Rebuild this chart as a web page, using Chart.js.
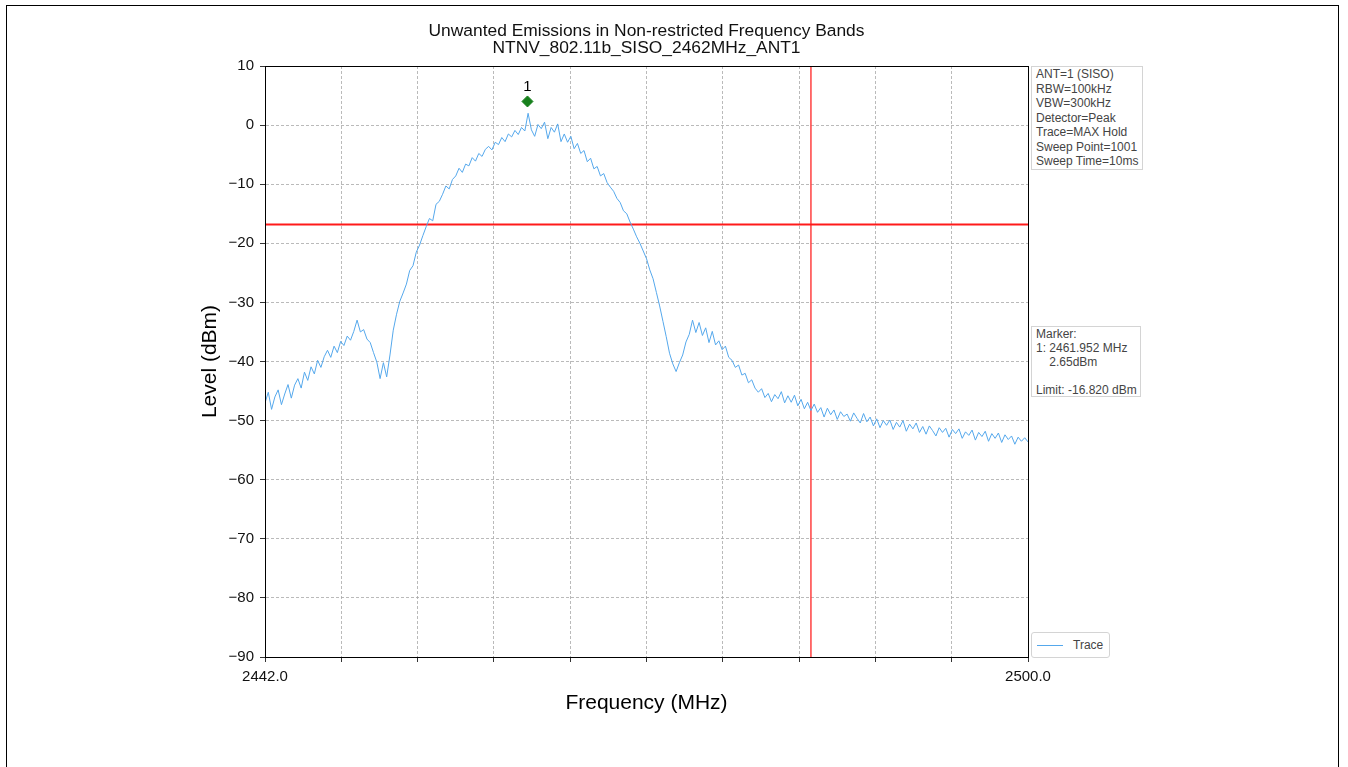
<!DOCTYPE html>
<html>
<head>
<meta charset="utf-8">
<title>Unwanted Emissions in Non-restricted Frequency Bands</title>
<script src="https://cdn.jsdelivr.net/npm/chart.js@4.4.1/dist/chart.umd.min.js"></script>
<style>
  html, body { margin: 0; padding: 0; background: #fff; overflow: hidden; }
  body { width: 1348px; height: 767px; position: relative; font-family: "Liberation Sans", Arial, sans-serif; }
  #frame { position: absolute; left: 6px; top: 5px; width: 1333px; height: 820px; border: 1.5px solid #000; box-sizing: border-box; }
  #chart { position: absolute; left: 0; top: 0; }
  .note { position: absolute; border: 1px solid #d4d4d4; background: #fff; font-size: 12px; color: #444; padding: 0 4px; white-space: pre; box-sizing: border-box; }
  #setup { left: 1031px; top: 66px; width: 112px; height: 104px; line-height: 14.5px; }
  #markerInfo { left: 1031px; top: 326px; width: 110px; height: 71px; line-height: 14px; }
  #legend { left: 1031px; top: 632px; width: 79px; height: 26px; border-radius: 3px; line-height: 24px; padding-left: 5px; }
  #legend span.swatch { display: inline-block; width: 26px; height: 0; border-top: 1.5px solid #55a8ec; vertical-align: middle; margin-right: 10px; }
</style>
</head>
<body>
<div id="frame"></div>
<canvas id="chart" width="1348" height="767"></canvas>
<div class="note" id="setup">ANT=1 (SISO)
RBW=100kHz
VBW=300kHz
Detector=Peak
Trace=MAX Hold
Sweep Point=1001
Sweep Time=10ms</div>
<div class="note" id="markerInfo">Marker:
1: 2461.952 MHz
    2.65dBm

Limit: -16.820 dBm</div>
<div class="note" id="legend"><span class="swatch"></span>Trace</div>
<script>
// Sweep: 2442.0 - 2500.0 MHz, every 0.25 MHz
const startFreq = 2442.0;
const stopFreq = 2500.0;
const freqStep = 0.25;

const traceLevels = [
  -47.0, -45.2, -48.1, -46.0, -44.8, -47.3, -45.5, -43.9,
  -46.2, -44.0, -42.9, -44.5, -41.8, -43.2, -40.9, -42.1,
  -39.8, -41.0, -39.2, -38.1, -39.3, -37.4, -38.5, -36.6,
  -37.3, -35.7, -36.4, -34.9, -33.0, -35.0, -34.6, -36.2,
  -36.8, -38.5, -40.1, -42.9, -40.2, -42.6, -38.9, -34.7,
  -32.0, -29.8, -28.4, -26.9, -24.6, -23.8, -21.5, -20.3,
  -18.7, -17.2, -15.8, -16.2, -13.4, -12.9, -11.7, -10.3,
  -10.8, -9.2, -8.6, -7.3, -8.0, -6.6, -6.9, -5.5,
  -6.1, -4.8, -5.3, -4.1, -3.6, -4.2, -2.9, -3.3,
  -2.1, -2.8, -1.5, -2.0, -0.9, -1.6, -0.4, -1.0,
  2.0, -0.8, -1.9, 0.1, -0.6, 0.5, -2.3, -0.4,
  -1.2, 0.2, -2.8, -1.5, -2.9, -1.9, -4.0, -3.1,
  -4.8, -4.3, -6.2, -5.6, -7.4, -7.0, -8.6, -8.2,
  -9.7, -10.5, -11.2, -12.4, -13.1, -14.5, -15.0, -16.4,
  -17.6, -18.9, -20.0, -21.3, -22.6, -24.5, -26.0, -28.3,
  -30.6, -33.2, -35.8, -38.6, -40.4, -41.7, -40.2, -38.9,
  -36.7, -35.4, -33.0, -35.1, -33.4, -35.6, -34.3, -36.8,
  -34.9, -37.2, -36.5, -38.0, -37.4, -39.3, -39.8, -41.0,
  -40.6, -42.3, -42.0, -43.6, -43.1, -44.5, -45.2, -44.6,
  -46.1, -45.4, -46.8, -45.6, -46.3, -45.1, -47.0, -45.8,
  -46.9, -45.7, -47.5, -46.4, -48.0, -46.9, -48.3, -47.2,
  -48.6, -47.8, -49.4, -47.9, -49.0, -48.2, -49.8, -48.5,
  -49.3, -48.9, -50.1, -48.7, -49.6, -50.4, -48.8, -50.2,
  -49.4, -50.9, -49.7, -51.2, -50.0, -50.8, -49.9, -51.5,
  -50.3, -51.1, -50.0, -51.8, -50.6, -51.4, -50.4, -52.0,
  -51.0, -52.3, -50.9, -51.7, -52.6, -51.2, -52.0, -51.3,
  -52.8, -51.5, -52.2, -51.4, -53.0, -51.9, -52.5, -51.6,
  -53.3, -52.0, -52.7, -51.8, -53.5, -52.2, -53.0, -52.1,
  -53.7, -52.4, -53.2, -52.6, -54.0, -52.8, -53.5, -52.9,
  -53.6
];

const xTicks = [2442.0, 2447.8, 2453.6, 2459.4, 2465.2, 2471.0, 2476.8, 2482.6, 2488.4, 2494.2, 2500.0];
const yMin = -90;
const yMax = 10;
const yStep = 10;

const limitLevel = -16.82;
const bandEdgeFreq = 2483.5;
const markerFreq = 2461.952;
const markerLevel = 4.0;   // where the diamond sits on the plot
const markerLabel = '1';

const titleLines = [
  'Unwanted Emissions in Non-restricted Frequency Bands',
  'NTNV_802.11b_SISO_2462MHz_ANT1'
];

const FONT = '"Liberation Sans", Arial, sans-serif';
const TRACE_COLOR = '#55a8ec';

const tracePoints = traceLevels.map(function (v, i) {
  return { x: startFreq + i * freqStep, y: v };
});

// full box round the axes, like the original plot
const framePlugin = {
  id: 'frame',
  afterDraw(chart) {
    const a = chart.chartArea;
    const ctx = chart.ctx;
    ctx.save();
    ctx.strokeStyle = '#000';
    ctx.lineWidth = 1;
    ctx.strokeRect(a.left + 0.5, a.top + 0.5, a.right - a.left, a.bottom - a.top);
    ctx.restore();
  }
};

// "1" over the marker diamond
const markerLabelPlugin = {
  id: 'markerLabel',
  afterDatasetsDraw(chart) {
    const meta = chart.getDatasetMeta(3);
    const pt = meta.data[0];
    if (!pt) return;
    const ctx = chart.ctx;
    ctx.save();
    ctx.fillStyle = '#000';
    ctx.font = '15px ' + FONT;
    ctx.textAlign = 'center';
    ctx.textBaseline = 'bottom';
    ctx.fillText(markerLabel, pt.x, pt.y - 7);
    ctx.restore();
  }
};

const gridStyle = {
  color: '#a8a8a8',
  lineWidth: 0.8,
  tickBorderDash: [],
  tickColor: '#000',
  tickLength: 5,
  drawTicks: true
};

// in v4 the grid line dash lives under border.dash
const borderStyle = { display: true, color: '#000', width: 1, dash: [3, 2] };

new Chart(document.getElementById('chart').getContext('2d'), {
  type: 'line',
  data: {
    datasets: [
      {
        label: 'Trace',
        data: tracePoints,
        borderColor: TRACE_COLOR,
        borderWidth: 1,
        pointRadius: 0,
        tension: 0
      },
      {
        label: 'Limit',
        data: [{ x: startFreq, y: limitLevel }, { x: stopFreq, y: limitLevel }],
        borderColor: '#ff1a1a',
        borderWidth: 2,
        pointRadius: 0
      },
      {
        label: 'Band edge',
        data: [{ x: bandEdgeFreq, y: yMin }, { x: bandEdgeFreq, y: yMax }],
        borderColor: '#ff4040',
        borderWidth: 1.5,
        pointRadius: 0
      },
      {
        label: 'Marker',
        data: [{ x: markerFreq, y: markerLevel }],
        showLine: false,
        pointStyle: 'rectRot',
        pointRadius: 5.5,
        backgroundColor: '#17801c',
        borderColor: '#17801c',
        borderWidth: 1
      }
    ]
  },
  options: {
    responsive: false,
    animation: false,
    layout: {
      padding: { left: 195, right: 320, top: 0, bottom: 47 }
    },
    plugins: {
      legend: { display: false },
      tooltip: { enabled: false },
      title: {
        display: true,
        fullSize: false,
        text: titleLines,
        color: '#111',
        font: { family: FONT, size: 17.4, weight: 'normal', lineHeight: '17px' },
        padding: { top: 23, bottom: 9 }
      }
    },
    scales: {
      x: {
        type: 'linear',
        min: startFreq,
        max: stopFreq,
        afterBuildTicks: function (scale) {
          scale.ticks = xTicks.map(function (v) { return { value: v }; });
        },
        afterFit: function (scale) { scale.height = 63; },
        grid: gridStyle,
        border: borderStyle,
        ticks: {
          autoSkip: false,
          maxRotation: 0,
          padding: 6,
          color: '#111',
          font: { family: FONT, size: 15 },
          callback: function (value, index, ticks) {
            return (index === 0 || index === ticks.length - 1) ? Number(value).toFixed(1) : '';
          }
        },
        title: {
          display: true,
          text: 'Frequency (MHz)',
          color: '#000',
          font: { family: FONT, size: 21 },
          padding: 4
        }
      },
      y: {
        min: yMin,
        max: yMax,
        afterFit: function (scale) { scale.width = 70; },
        grid: gridStyle,
        border: borderStyle,
        ticks: {
          stepSize: yStep,
          padding: 6,
          color: '#111',
          font: { family: FONT, size: 15 },
          callback: function (value) {
            return String(value).replace('-', '\u2212');
          }
        },
        title: {
          display: true,
          text: 'Level (dBm)',
          color: '#000',
          font: { family: FONT, size: 21 },
          padding: 3
        }
      }
    }
  },
  plugins: [framePlugin, markerLabelPlugin]
});
</script>
</body>
</html>
